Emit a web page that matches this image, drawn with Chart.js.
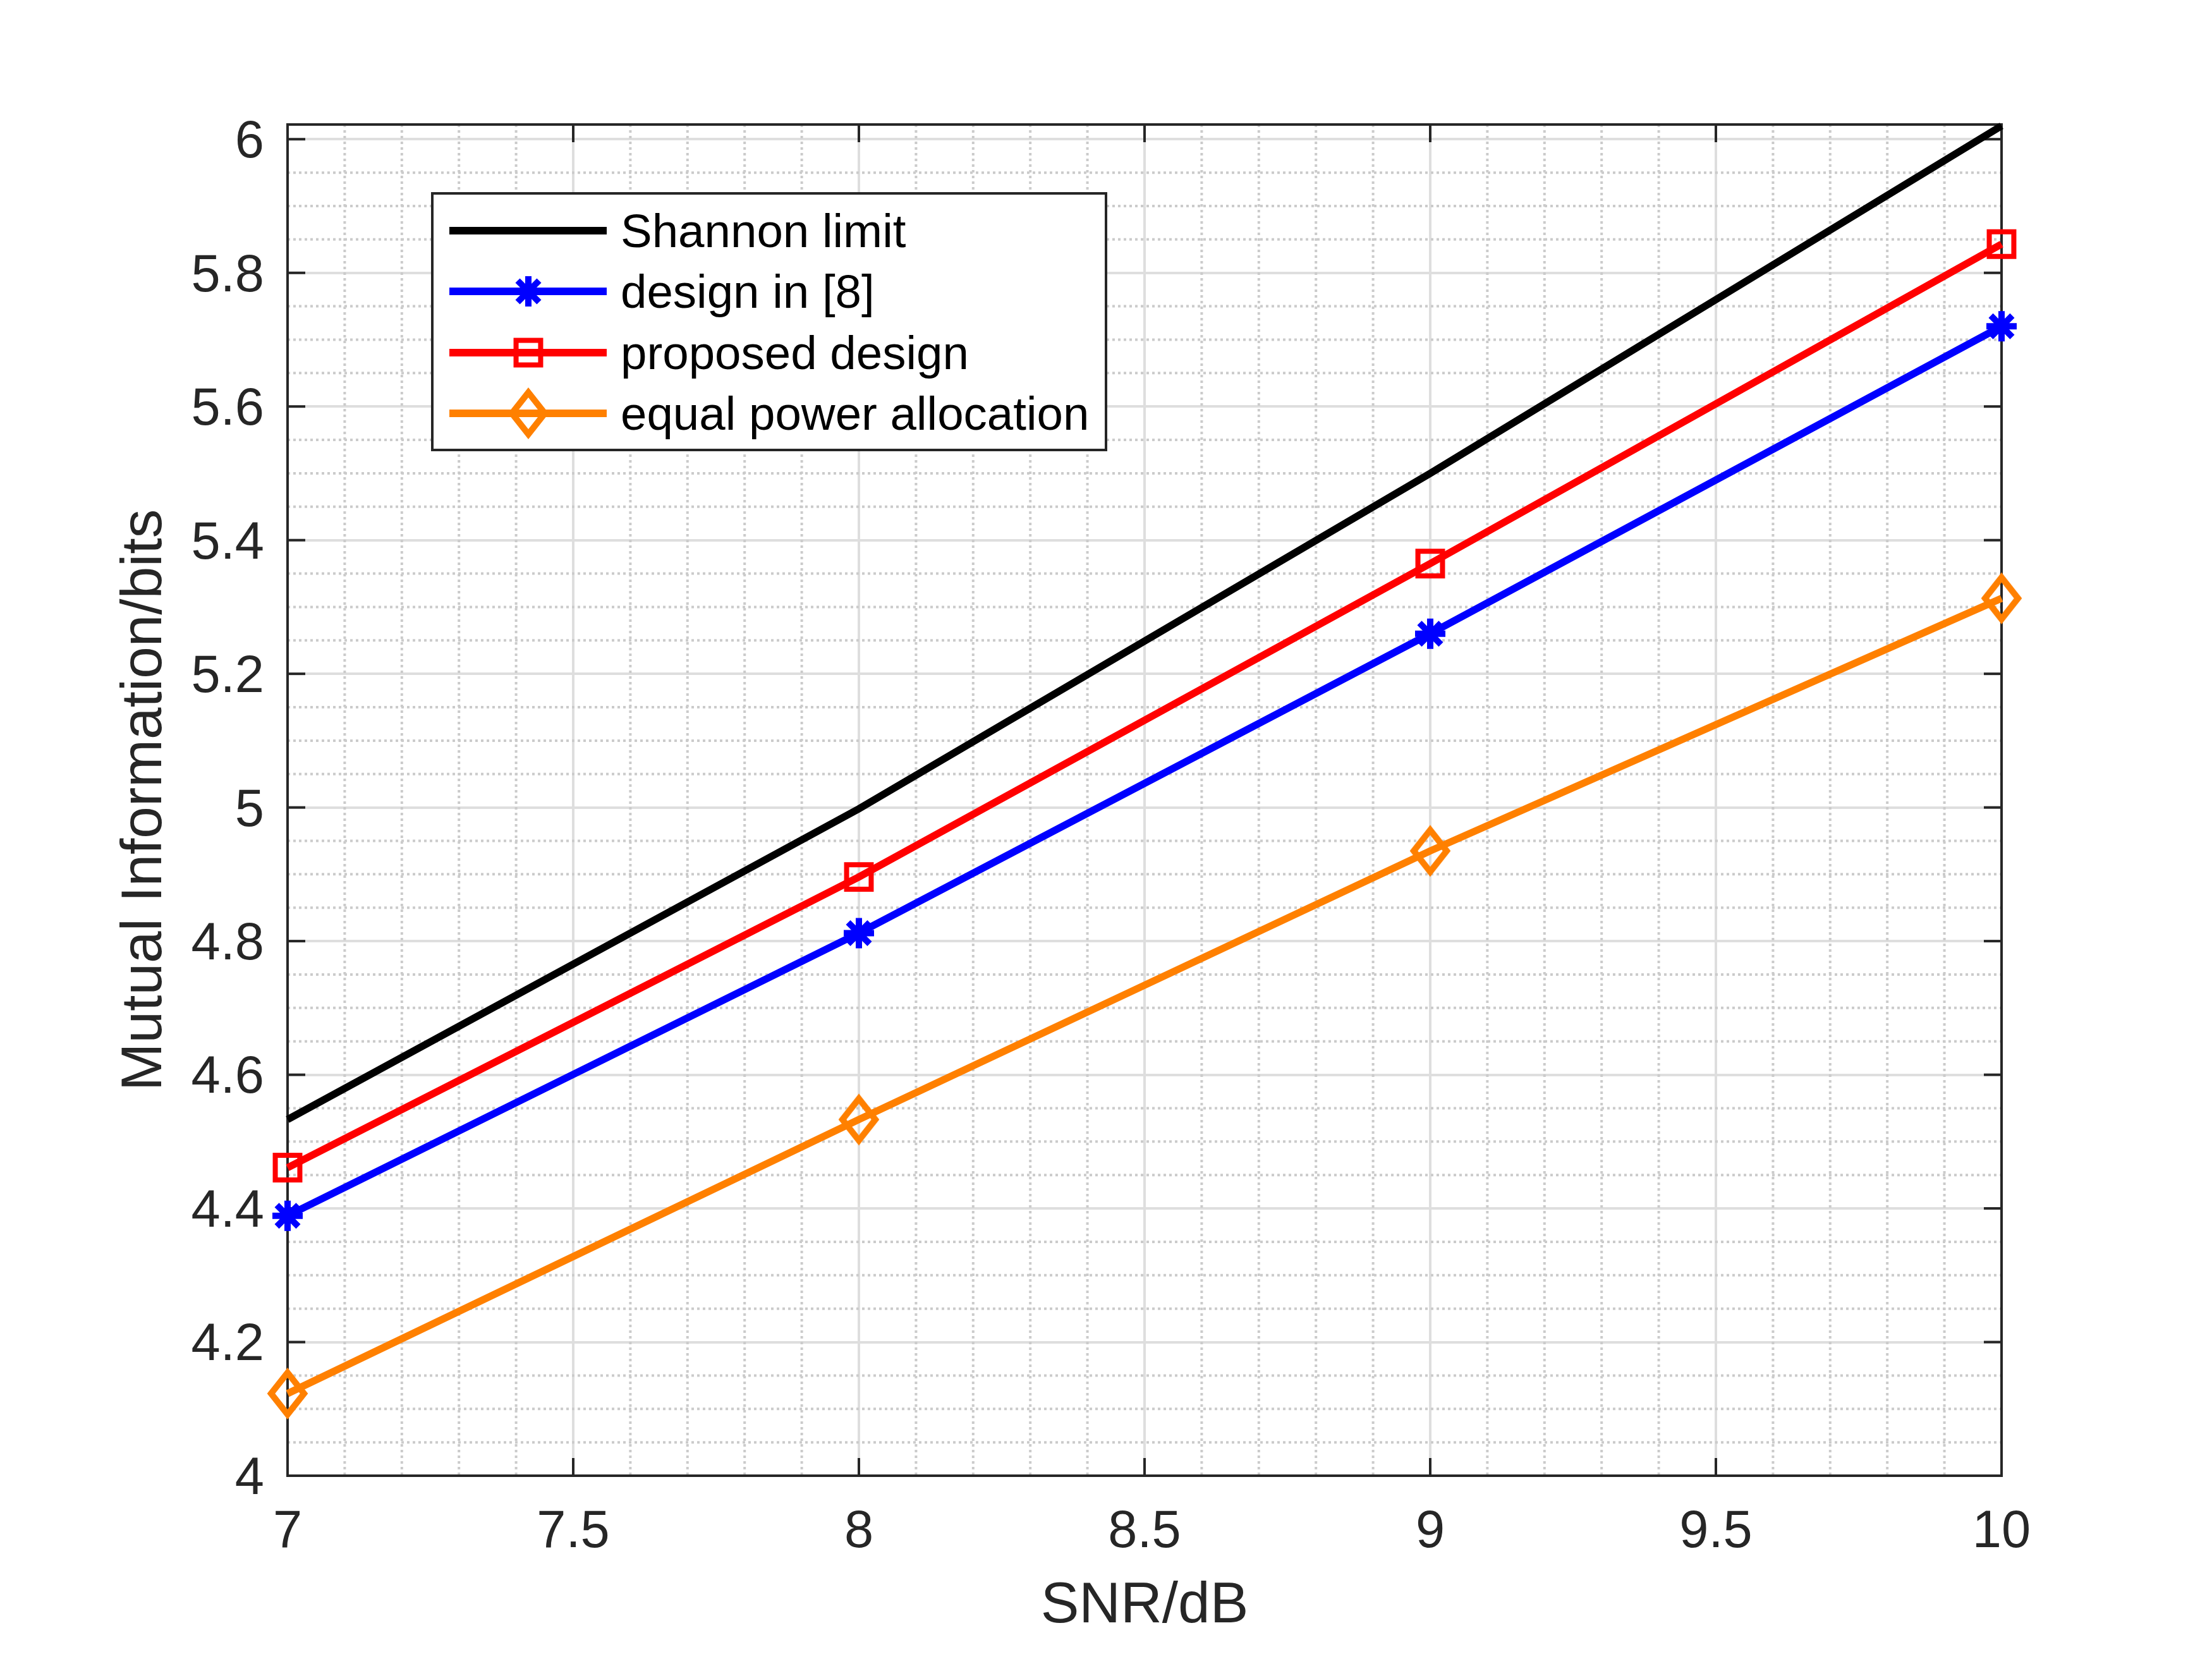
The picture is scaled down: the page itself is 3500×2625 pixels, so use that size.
<!DOCTYPE html>
<html>
<head>
<meta charset="utf-8">
<script src="https://cdn.jsdelivr.net/npm/chart.js@4.4.1/dist/chart.umd.min.js"></script>
<style>
  html, body { margin: 0; padding: 0; background: #fff; }
  #wrap { width: 3500px; height: 2625px; }
</style>
</head>
<body>
<div id="wrap"><canvas id="chart" width="3500" height="2625"></canvas></div>
<script>
// data
const snr = [7, 8, 9, 10];
const shannonLimit = [4.533, 4.998, 5.500, 6.020];
const design8 = [4.389, 4.812, 5.260, 5.720];
const proposedDesign = [4.461, 4.896, 5.365, 5.843];
const equalPower = [4.123, 4.533, 4.935, 5.313];

const seriesNames = ['Shannon limit', 'design in [8]', 'proposed design', 'equal power allocation'];
const xTicks = [7, 7.5, 8, 8.5, 9, 9.5, 10];
const xTickLabels = ['7', '7.5', '8', '8.5', '9', '9.5', '10'];
const yTicks = [4, 4.2, 4.4, 4.6, 4.8, 5, 5.2, 5.4, 5.6, 5.8, 6];
const yTickLabels = ['4', '4.2', '4.4', '4.6', '4.8', '5', '5.2', '5.4', '5.6', '5.8', '6'];

const FONT = "'Liberation Sans', Arial, sans-serif";
const AXIS_COLOR = '#262626';
const BLUE = '#0000ff', RED = '#ff0000', ORANGE = '#ff8000';

// MATLAB-like tall diamond marker
function makeDiamond(color) {
  const c = document.createElement('canvas');
  c.width = 80; c.height = 100;
  const g = c.getContext('2d');
  g.strokeStyle = color;
  g.lineWidth = 10;
  g.beginPath();
  g.moveTo(40, 50 - 33);
  g.lineTo(40 + 26, 50);
  g.lineTo(40, 50 + 33);
  g.lineTo(40 - 26, 50);
  g.closePath();
  g.stroke();
  return c;
}
const diamond = makeDiamond(ORANGE);

function pts(ys) {
  return snr.map((x, i) => ({ x, y: ys[i] }));
}

function seg(ctx, x1, y1, x2, y2) {
  ctx.beginPath();
  ctx.moveTo(x1, y1);
  ctx.lineTo(x2, y2);
  ctx.stroke();
}

const matlabAxes = {
  id: 'matlabAxes',
  beforeDatasetsDraw(chart) {
    const { ctx, chartArea: a, scales: { x, y } } = chart;
    ctx.save();
    // minor grid, dotted
    ctx.strokeStyle = '#cbcbcb';
    ctx.lineWidth = 4;
    ctx.setLineDash([4, 5]);
    for (let i = 1; i < 30; i++) {
      if (i % 5 === 0) continue;
      const px = x.getPixelForValue(7 + i * 0.1);
      seg(ctx, px, a.top, px, a.bottom);
    }
    for (let i = 1; i < 40; i++) {
      if (i % 4 === 0) continue;
      const py = y.getPixelForValue(4 + i * 0.05);
      seg(ctx, a.left, py, a.right, py);
    }
    ctx.setLineDash([]);
    // box and inward ticks
    ctx.strokeStyle = AXIS_COLOR;
    ctx.lineWidth = 4;
    ctx.strokeRect(a.left, a.top, a.right - a.left, a.bottom - a.top);
    const tl = 28;
    xTicks.forEach(v => {
      const px = x.getPixelForValue(v);
      seg(ctx, px, a.bottom, px, a.bottom - tl);
      seg(ctx, px, a.top, px, a.top + tl);
    });
    yTicks.forEach(v => {
      const py = y.getPixelForValue(v);
      seg(ctx, a.left, py, a.left + tl, py);
      seg(ctx, a.right, py, a.right - tl, py);
    });
    ctx.restore();
  },
  afterDatasetsDraw(chart) {
    const ctx = chart.ctx;
    const box = { left: 684, top: 306, right: 1750, bottom: 712 };
    const rowY = [365, 461, 558, 654];
    const colors = ['#000000', BLUE, RED, ORANGE];
    ctx.save();
    ctx.fillStyle = '#ffffff';
    ctx.fillRect(box.left, box.top, box.right - box.left, box.bottom - box.top);
    ctx.strokeStyle = AXIS_COLOR;
    ctx.lineWidth = 4;
    ctx.strokeRect(box.left, box.top, box.right - box.left, box.bottom - box.top);
    rowY.forEach((ry, i) => {
      ctx.strokeStyle = colors[i];
      ctx.lineWidth = 12;
      seg(ctx, 711, ry, 960, ry);
      const mx = 836;
      if (i === 1) {
        ctx.lineWidth = 10;
        const r = 24;
        for (let k = 0; k < 4; k++) {
          const ang = k * Math.PI / 4;
          seg(ctx, mx - Math.cos(ang) * r, ry - Math.sin(ang) * r, mx + Math.cos(ang) * r, ry + Math.sin(ang) * r);
        }
      } else if (i === 2) {
        ctx.lineWidth = 8;
        const h = 27.5 * Math.SQRT1_2;
        ctx.strokeRect(mx - h, ry - h, 2 * h, 2 * h);
      } else if (i === 3) {
        ctx.drawImage(diamond, mx - diamond.width / 2, ry - diamond.height / 2);
      }
      ctx.fillStyle = '#000000';
      ctx.font = '74.5px ' + FONT;
      ctx.textBaseline = 'middle';
      ctx.textAlign = 'left';
      ctx.fillText(seriesNames[i], 982, ry + 5);
    });
    ctx.restore();
  }
};

new Chart(document.getElementById('chart').getContext('2d'), {
  type: 'scatter',
  data: {
    datasets: [
      { label: seriesNames[0], data: pts(shannonLimit), showLine: true, borderColor: '#000000', borderWidth: 11.5, pointRadius: 0, clip: false },
      { label: seriesNames[1], data: pts(design8), showLine: true, borderColor: BLUE, borderWidth: 11.5,
        pointStyle: 'star', pointRadius: 24, pointBorderWidth: 10, pointBorderColor: BLUE, pointBackgroundColor: BLUE, clip: false },
      { label: seriesNames[2], data: pts(proposedDesign), showLine: true, borderColor: RED, borderWidth: 11.5,
        pointStyle: 'rect', pointRadius: 27.5, pointBorderWidth: 8, pointBorderColor: RED, pointBackgroundColor: 'rgba(0,0,0,0)', clip: false },
      { label: seriesNames[3], data: pts(equalPower), showLine: true, borderColor: ORANGE, borderWidth: 11.5,
        pointStyle: diamond, pointRadius: 30, clip: false }
    ]
  },
  options: {
    responsive: false,
    devicePixelRatio: 1,
    animation: false,
    events: [],
    layout: { padding: { left: 0, top: 197, right: 333, bottom: 0 } },
    plugins: { legend: { display: false }, tooltip: { enabled: false } },
    scales: {
      x: {
        type: 'linear', min: 7, max: 10,
        afterBuildTicks: s => { s.ticks = xTicks.map(v => ({ value: v })); },
        afterFit: s => { s.height = 290; },
        ticks: { callback: (v, i) => xTickLabels[i], font: { family: FONT, size: 83 }, color: AXIS_COLOR, padding: 40, maxRotation: 0 },
        grid: { color: '#dedede', lineWidth: 4, drawTicks: false },
        border: { display: false },
        title: { display: true, text: 'SNR/dB', font: { family: FONT, size: 91 }, color: AXIS_COLOR, padding: { top: 0, bottom: 28 } }
      },
      y: {
        type: 'linear', min: 4, max: 6.022,
        afterBuildTicks: s => { s.ticks = yTicks.map(v => ({ value: v })); },
        afterFit: s => { s.width = 455; },
        ticks: { callback: (v, i) => yTickLabels[i], font: { family: FONT, size: 83 }, color: AXIS_COLOR, padding: 37, labelOffset: 6 },
        grid: { color: '#dedede', lineWidth: 4, drawTicks: false },
        border: { display: false },
        title: { display: true, text: 'Mutual Information/bits', font: { family: FONT, size: 91 }, color: AXIS_COLOR, padding: { top: 175, bottom: 0 } }
      }
    }
  },
  plugins: [matlabAxes]
});
</script>
</body>
</html>
